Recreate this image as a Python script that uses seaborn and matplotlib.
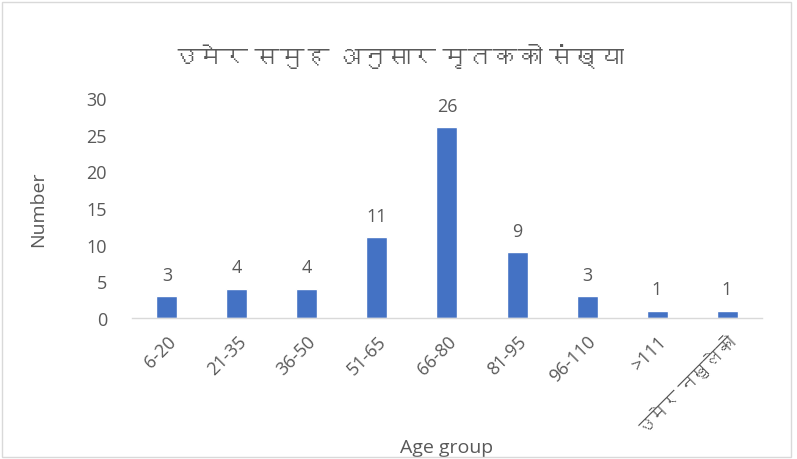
import matplotlib
matplotlib.use("Agg")
import matplotlib.pyplot as plt
from matplotlib import font_manager, ft2font
import seaborn as sns
import pandas as pd

# data
age_groups = ["6-20", "21-35", "36-50", "51-65", "66-80", "81-95", "96-110", ">111", "उमेर नखुलेको"]
deaths = [3, 4, 4, 11, 26, 9, 3, 1, 1]
title = "उमेर समुह अनुसार मृतकको संख्या"

# look for any installed font that has Devanagari glyphs
deva = None
for f in font_manager.fontManager.ttflist:
    try:
        if 0x0909 in ft2font.FT2Font(f.fname).get_charmap():
            deva = f.name
            break
    except Exception:
        pass

sns.set_style("white")
fams = ["Open Sans"] + ([deva] if deva else []) + ["DejaVu Sans"]
plt.rcParams["font.family"] = fams

df = pd.DataFrame({"group": age_groups, "n": deaths})

fig = plt.figure(figsize=(7.97, 4.6), dpi=100)
ax = fig.add_axes([0.1656, 0.3065, 0.7905, 0.4783])
sns.barplot(data=df, x="group", y="n", color="#4472C4", width=0.3, ax=ax, saturation=1)

grey = "#595959"
ax.set_ylim(0, 30)
ax.set_yticks(range(0, 31, 5))
for i, v in enumerate(deaths):
    ax.text(i, v + 1.7, str(v), ha="center", va="bottom", fontsize=13, color=grey)

ax.tick_params(axis="both", length=0, labelsize=13, colors=grey)
plt.setp(ax.get_xticklabels(), rotation=45, ha="right", rotation_mode="anchor")
ax.tick_params(axis="y", pad=18)
ax.tick_params(axis="x", pad=10)

for s in ["top", "right", "left"]:
    ax.spines[s].set_visible(False)
ax.spines["bottom"].set_color("#D9D9D9")
ax.spines["bottom"].set_linewidth(1)

ax.set_xlabel("Age group", fontsize=14, color=grey, labelpad=0)
ax.set_ylabel("Number", fontsize=14, color=grey, labelpad=28)
fig.text(0.5, 0.87, title, ha="center", va="center", fontsize=18, color=grey)

fig.patches.append(plt.Rectangle((0.002, 0.004), 0.99, 0.99, transform=fig.transFigure,
                                 fill=False, edgecolor="#D9D9D9", linewidth=1))

fig.savefig("out.png", dpi=100)
